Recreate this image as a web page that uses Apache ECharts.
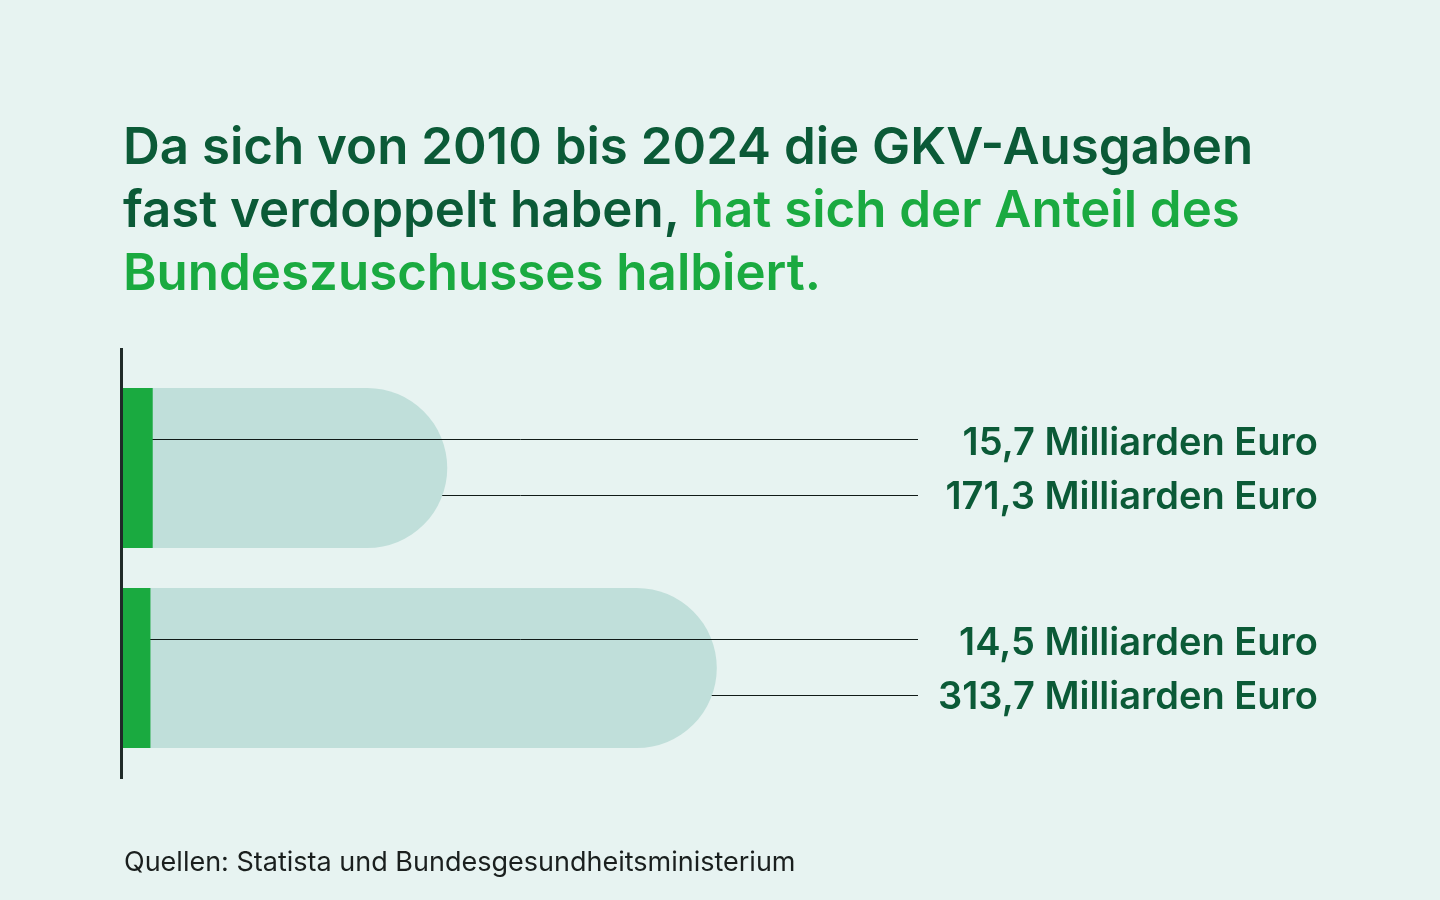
<!DOCTYPE html>
<html>
<head>
<meta charset="utf-8">
<script src="https://cdn.jsdelivr.net/npm/echarts@6/dist/echarts.min.js"></script>
<style>
html,body{margin:0;padding:0;background:#e7f3f1;}
#chart{width:1440px;height:900px;}
</style>
</head>
<body>
<div id="chart"></div>
<script>
// Data
const years = ['2010', '2024'];
const gkvAusgaben = [171.3, 313.7];          // Mrd. Euro
const bundeszuschuss = [15.7, 14.5];         // Mrd. Euro
const ausgabenLabels = ['171,3 Milliarden Euro', '313,7 Milliarden Euro'];
const zuschussLabels = ['15,7 Milliarden Euro', '14,5 Milliarden Euro'];

const DARK = '#0b5a37';
const GREEN = '#1aaa40';
const LIGHT = '#c0dfda';
const FONT = 'Inter, "Noto Sans", sans-serif';

const chart = echarts.init(document.getElementById('chart'), null, {renderer: 'canvas'});

function leader(values, labels, dy, textDy) {
  return function (params, api) {
    const cat = api.value(0);
    const start = api.coord([0, cat]);
    const cs = params.coordSys;
    const y = Math.round(start[1] + dy) + 0.5;
    const xEnd = cs.x + cs.width;
    return {
      type: 'group',
      children: [
        {type: 'line', shape: {x1: start[0], y1: y, x2: xEnd, y2: y},
         style: {stroke: '#101a17', lineWidth: 1}},
        {type: 'text', x: xEnd + 400, y: y + textDy,
         style: {text: labels[params.dataIndex], fill: DARK, font: '600 38px ' + FONT,
                 textAlign: 'right', textVerticalAlign: 'middle'}}
      ]
    };
  };
}

chart.setOption({
  backgroundColor: '#e7f3f1',
  animation: false,
  title: [{
    left: 118, top: 112,
    text: '{a|Da sich von 2010 bis 2024 die GKV-Ausgaben}\n{a|fast verdoppelt haben, }{b|hat sich der Anteil des}\n{b|Bundeszuschusses halbiert.}',
    textStyle: {
      rich: {
        a: {color: DARK, fontSize: 51, fontWeight: 600, fontFamily: FONT, lineHeight: 63},
        b: {color: GREEN, fontSize: 51, fontWeight: 600, fontFamily: FONT, lineHeight: 63}
      }
    }
  }, {
    left: 119, top: 844,
    text: 'Quellen: Statista und Bundesgesundheitsministerium',
    textStyle: {color: '#1a1f1e', fontSize: 27, fontWeight: 400, fontFamily: FONT}
  }],
  grid: {left: 123, top: 368, width: 795, height: 400},
  xAxis: {type: 'value', min: 0, max: 420, show: false},
  yAxis: {type: 'category', inverse: true, data: years, axisLine: {show: false},
          axisTick: {show: false}, axisLabel: {show: false}},
  graphic: [{type: 'rect', shape: {x: 120, y: 348, width: 3, height: 431},
             style: {fill: '#1f2a28'}, z: 10}],
  series: [
    {type: 'custom', z: 1, data: years.map((y, i) => [i]),
     encode: {y: 0}, renderItem: leader(gkvAusgaben, ausgabenLabels, 27, 2)},
    {type: 'bar', name: 'GKV-Ausgaben', z: 2, data: gkvAusgaben, barWidth: 160, barGap: '-100%',
     itemStyle: {color: LIGHT, borderRadius: [0, 80, 80, 0]}},
    {type: 'custom', z: 3, data: years.map((y, i) => [i]),
     encode: {y: 0}, renderItem: leader(bundeszuschuss, zuschussLabels, -29, 4)},
    {type: 'bar', name: 'Bundeszuschuss', z: 4, data: bundeszuschuss, barWidth: 160, barGap: '-100%',
     itemStyle: {color: GREEN}}
  ]
});
</script>
</body>
</html>
